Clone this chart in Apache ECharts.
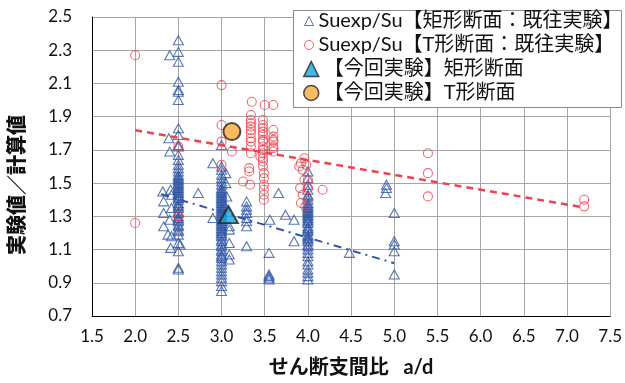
<!DOCTYPE html>
<html>
<head>
<meta charset="utf-8">
<script src="https://cdn.jsdelivr.net/npm/echarts@6/dist/echarts.min.js"></script>
<style>
html,body{margin:0;padding:0;background:#fff;}
#chart{width:625px;height:383px;}
</style>
</head>
<body>
<div id="chart"></div>
<script>
// Axis ticks
const xTicks = [1.5, 2.0, 2.5, 3.0, 3.5, 4.0, 4.5, 5.0, 5.5, 6.0, 6.5, 7.0, 7.5];
const yTicks = [0.7, 0.9, 1.1, 1.3, 1.5, 1.7, 1.9, 2.1, 2.3, 2.5];

// Rectangular sections, earlier tests: stacked columns at a/d = 2.5, 3.0, 4.0
const rectAt25 = [2.36, 2.29, 2.23, 2.11, 2.06, 2.05, 2.00, 1.83, 1.79, 1.73, 1.72, 1.67, 1.64, 1.61,
  1.59, 1.57, 1.55, 1.54, 1.53, 1.52, 1.51, 1.50, 1.49, 1.48, 1.47, 1.46, 1.45, 1.44, 1.43, 1.42,
  1.41, 1.40, 1.38, 1.37, 1.36, 1.35, 1.33, 1.32, 1.30, 1.29, 1.28, 1.27, 1.25, 1.24, 1.22, 1.21,
  1.19, 1.14, 1.09, 0.99, 0.98];
const rectAt30 = [1.73, 1.60, 1.58, 1.55, 1.53, 1.51, 1.49, 1.47, 1.46, 1.45, 1.44, 1.43, 1.42, 1.41,
  1.40, 1.39, 1.38, 1.37, 1.36, 1.35, 1.34, 1.33, 1.32, 1.31, 1.30, 1.29, 1.28, 1.27, 1.26, 1.25,
  1.24, 1.23, 1.22, 1.21, 1.20, 1.19, 1.18, 1.16, 1.15, 1.13, 1.12, 1.10, 1.09, 1.07, 1.06, 1.05,
  1.03, 1.01, 0.99, 0.97, 0.95, 0.93, 0.91, 0.88, 0.85];
const rectAt40 = [1.57, 1.53, 1.49, 1.46, 1.43, 1.42, 1.40, 1.38, 1.37, 1.36, 1.35, 1.34, 1.33, 1.32,
  1.31, 1.30, 1.29, 1.28, 1.27, 1.26, 1.24, 1.23, 1.22, 1.21, 1.19, 1.18, 1.17, 1.16, 1.15, 1.13,
  1.12, 1.10, 1.08, 1.06, 1.03, 1.01, 0.98, 0.96, 0.94, 0.92];
// Rectangular sections, earlier tests: remaining points [a/d, ratio]
const rectOther = [
  [2.40, 2.27], [2.39, 1.77], [2.40, 1.69], [2.32, 1.45], [2.41, 1.46], [2.42, 1.43], [2.33, 1.39],
  [2.33, 1.32], [2.42, 1.35], [2.40, 1.28], [2.33, 1.24], [2.38, 1.19], [2.42, 1.18], [2.41, 1.11],
  [2.52, 1.13], [2.73, 1.44],
  [2.90, 1.62], [3.05, 1.56], [3.05, 1.50], [3.06, 1.42], [3.04, 1.36], [2.90, 1.29], [3.09, 1.24],
  [3.09, 1.22], [3.09, 1.14], [3.09, 1.07], [3.09, 1.04],
  [3.29, 1.39], [3.29, 1.36], [3.29, 1.34], [3.29, 1.32], [3.29, 1.29], [3.29, 1.27], [3.29, 1.24],
  [3.29, 1.12], [3.66, 1.44], [3.56, 1.28], [3.74, 1.31], [3.84, 1.28], [3.84, 1.15], [3.55, 1.08],
  [3.55, 0.95], [3.55, 0.94], [3.55, 0.93], [3.55, 0.92],
  [4.48, 1.08], [4.91, 1.49], [4.91, 1.47], [4.90, 1.44], [5.00, 1.32], [5.00, 1.15], [5.00, 1.13],
  [5.00, 1.09], [5.00, 0.95]
];

// T-shaped sections, earlier tests [a/d, ratio]
const tPrev = [
  [2.00, 2.27], [2.00, 1.26], [2.50, 1.72], [2.50, 1.30], [3.00, 2.09], [3.00, 1.85], [3.00, 1.75],
  [3.12, 1.69], [3.00, 1.61],
  [3.35, 1.99], [3.50, 1.97], [3.60, 1.97],
  [3.34, 1.91], [3.34, 1.88], [3.34, 1.86], [3.34, 1.84], [3.34, 1.82], [3.34, 1.80], [3.34, 1.77],
  [3.34, 1.75], [3.34, 1.72], [3.34, 1.68],
  [3.48, 1.88], [3.48, 1.85], [3.48, 1.83], [3.48, 1.81], [3.48, 1.79], [3.48, 1.76], [3.48, 1.75],
  [3.48, 1.72], [3.48, 1.70], [3.48, 1.68], [3.48, 1.65], [3.48, 1.63], [3.48, 1.60],
  [3.60, 1.82], [3.60, 1.78], [3.60, 1.76], [3.60, 1.75], [3.60, 1.72], [3.60, 1.71], [3.60, 1.69],
  [3.32, 1.59], [3.32, 1.57], [3.25, 1.51], [3.33, 1.49], [3.45, 1.66],
  [3.49, 1.56], [3.49, 1.53], [3.49, 1.49], [3.49, 1.46], [3.49, 1.43], [3.49, 1.40],
  [3.92, 1.62], [3.98, 1.61], [3.94, 1.58], [3.96, 1.52], [4.00, 1.52], [3.91, 1.47], [4.00, 1.47],
  [3.94, 1.43], [3.92, 1.38], [3.97, 1.36], [4.17, 1.46], [3.96, 1.65], [3.90, 1.60],
  [5.39, 1.68], [5.39, 1.56], [5.39, 1.42],
  [7.20, 1.40], [7.20, 1.36]
];

// Present tests
const rectNew = [[3.08, 1.31]];
const tNew = [[3.12, 1.81]];

// Trend lines (end points)
const tTrend = [[2.0, 1.818], [7.2, 1.353]];
const rectTrend = [[2.3, 1.433], [5.0, 1.018]];

const names = [
  'Suexp/Su【矩形断面：既往実験】',
  'Suexp/Su【T形断面：既往実験】',
  '【今回実験】矩形断面',
  '【今回実験】T形断面'
];

const BLUE = '#2F55A5';
const RED = '#F0414F';
const FONT = 'Lato, "Noto Sans CJK JP", sans-serif';

const column = (x, ys) => ys.map(y => [x, y]);
const rectPrev = column(2.5, rectAt25).concat(column(3.0, rectAt30), column(4.0, rectAt40), rectOther);

const chart = echarts.init(document.getElementById('chart'), null, {renderer: 'canvas'});

function legendItem(name, top, left, size, icon, style) {
  return {
    show: true, orient: 'vertical', left: left, top: top, z: 100,
    itemWidth: size, itemHeight: size, itemGap: 0, padding: 0,
    selectedMode: false,
    textStyle: {fontFamily: FONT, fontSize: 20, color: '#111'},
    data: [{name: name, icon: icon, itemStyle: style}]
  };
}

chart.setOption({
  animation: false,
  backgroundColor: '#fff',
  grid: {left: 92, right: 13, top: 17, bottom: 65, containLabel: false},
  xAxis: {
    type: 'value', min: 1.5, max: 7.5, interval: 0.5,
    axisLine: {show: true, onZero: false, lineStyle: {color: '#000', width: 1}},
    axisTick: {show: false},
    axisLabel: {fontFamily: FONT, fontSize: 17, color: '#111', margin: 12,
      formatter: v => xTicks.includes(+v.toFixed(1)) ? v.toFixed(1) : ''},
    splitLine: {show: true, lineStyle: {color: '#A6A6A6', width: 1}},
    name: 'せん断支間比   a/d', nameLocation: 'middle', nameGap: 42,
    nameTextStyle: {fontFamily: FONT, fontSize: 20, fontWeight: 'bold', color: '#111'}
  },
  yAxis: {
    type: 'value', min: 0.7, max: 2.5, interval: 0.2,
    axisLine: {show: true, onZero: false, lineStyle: {color: '#000', width: 1}},
    axisTick: {show: false},
    axisLabel: {fontFamily: FONT, fontSize: 17, color: '#111', margin: 20,
      formatter: v => yTicks.includes(+v.toFixed(1)) ? v.toFixed(1) : ''},
    splitLine: {show: true, lineStyle: {color: '#A6A6A6', width: 1}}
  },
  graphic: [
    {type: 'text', left: 8, top: 115, rotation: Math.PI / 2,
      style: {text: '実験値／計算値', font: '900 20px ' + FONT, fill: '#111'}},
    {type: 'rect', left: 293, top: 10, z: 50,
      shape: {width: 328, height: 97},
      style: {fill: '#fff', stroke: '#8C8C8C', lineWidth: 1}}
  ],
  legend: [
    legendItem(names[0], 11, 304, 9, 'triangle', {color: 'rgba(0,0,0,0)', borderColor: BLUE, borderWidth: 1}),
    legendItem(names[1], 35, 304, 9, 'circle', {color: 'rgba(0,0,0,0)', borderColor: RED, borderWidth: 1}),
    legendItem(names[2], 59, 303, 15, 'triangle', {color: '#15A5DC', borderColor: '#222', borderWidth: 1.5}),
    legendItem(names[3], 83, 303, 15, 'circle', {color: '#F8A938', borderColor: '#222', borderWidth: 1.5})
  ],
  series: [
    {
      name: names[0], type: 'scatter', data: rectPrev, symbol: 'triangle', symbolSize: [10, 9],
      itemStyle: {color: 'rgba(0,0,0,0)', borderColor: BLUE, borderWidth: 1.1}, z: 2
    },
    {
      name: names[1], type: 'scatter', data: tPrev, symbol: 'circle', symbolSize: 9,
      itemStyle: {color: 'rgba(0,0,0,0)', borderColor: RED, borderWidth: 1.1}, z: 3
    },
    {
      name: 'tTrend', type: 'line', data: tTrend, symbol: 'none', z: 4,
      lineStyle: {color: RED, width: 2.5, type: [7, 5]}
    },
    {
      name: 'rectTrend', type: 'line', data: rectTrend, symbol: 'none', z: 4,
      lineStyle: {color: BLUE, width: 2, type: [8, 5, 2, 5]}
    },
    {
      name: names[2], type: 'scatter', data: rectNew, symbol: 'triangle', symbolSize: [19, 17],
      itemStyle: {color: '#15A5DC', borderColor: '#222', borderWidth: 2}, z: 6
    },
    {
      name: names[3], type: 'scatter', data: tNew, symbol: 'circle', symbolSize: 17,
      itemStyle: {color: '#F8A938', borderColor: '#222', borderWidth: 2}, z: 6
    }
  ]
});
</script>
</body>
</html>
